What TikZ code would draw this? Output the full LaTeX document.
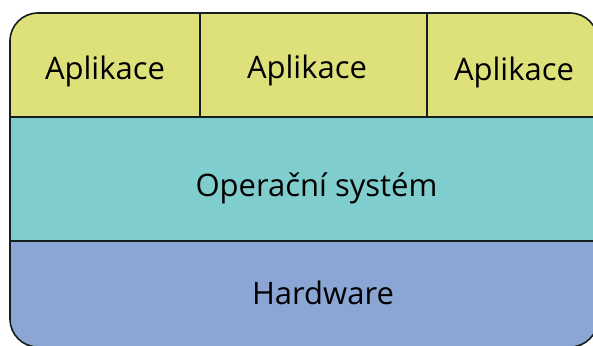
\documentclass[tikz,border=0pt]{standalone}
\usepackage{fontspec}
\setmainfont{Open Sans}
\definecolor{appfill}{RGB}{222,224,122}
\definecolor{osfill}{RGB}{127,205,205}
\definecolor{hwfill}{RGB}{139,165,213}
\definecolor{edge}{RGB}{20,30,30}
\begin{document}
\begin{tikzpicture}[x=1pt,y=-1pt,
  layer/.style={draw=edge,line width=1.6pt},
  lbl/.style={font=\fontsize{31}{37}\selectfont,text=black,inner sep=0pt,anchor=base}]
\useasboundingbox (0,0) rectangle (593,345);
\def\outline{(10,13) rectangle (598,347)}
\begin{scope}
  \clip[rounded corners=28pt] \outline;
  % three layers of the stack
  \fill[appfill] (0,0) rectangle (600,117);
  \fill[osfill] (0,117) rectangle (600,241);
  \fill[hwfill] (0,241) rectangle (600,350);
  \draw[layer] (0,117) -- (600,117);
  \draw[layer] (0,241) -- (600,241);
  \draw[layer] (200,0) -- (200,117);
  \draw[layer] (427,0) -- (427,117);
\end{scope}
\draw[layer,rounded corners=28pt] \outline;
\node[lbl] (a1) at (105,79) {Aplikace};
\node[lbl] (a2) at (307,78) {Aplikace};
\node[lbl] (a3) at (514,80) {Aplikace};
\node[lbl] (os) at (316.5,196) {Operační systém};
\node[lbl] (hw) at (323,304) {Hardware};
\end{tikzpicture}
\end{document}
